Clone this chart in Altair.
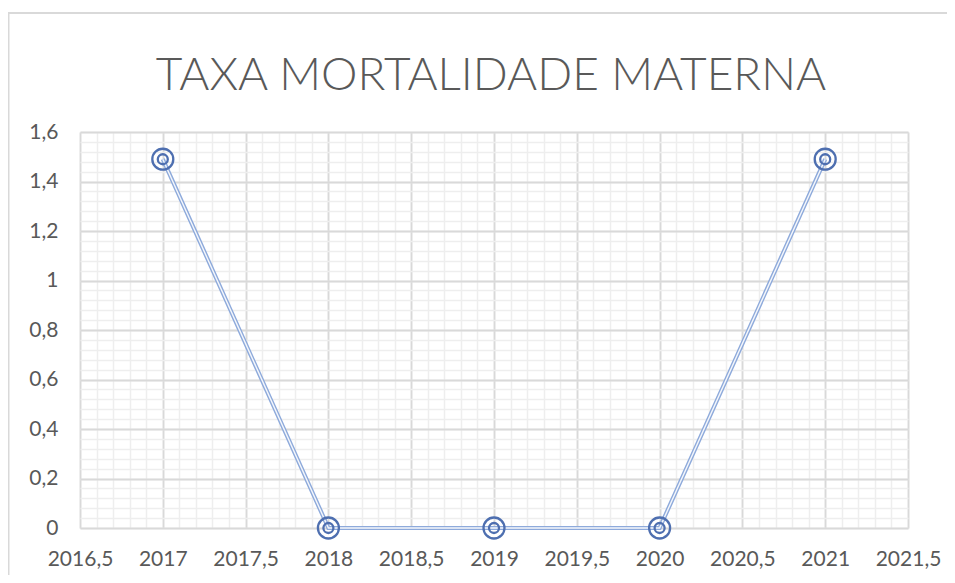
import altair as alt
import pandas as pd

# data
years = [2017, 2018, 2019, 2020, 2021]
taxa = [1.49, 0, 0, 0, 1.49]

x_major = [2016.5, 2017, 2017.5, 2018, 2018.5, 2019, 2019.5, 2020, 2020.5, 2021, 2021.5]
y_major = [0, 0.2, 0.4, 0.6, 0.8, 1, 1.2, 1.4, 1.6]
x_minor = [round(2016.5 + 0.1 * i, 2) for i in range(51)]
y_minor = [round(0.04 * i, 2) for i in range(41)]
title_text = "TAXA MORTALIDADE MATERNA"

df = pd.DataFrame({"ano": years, "taxa": taxa})

XDOM = [2016.5, 2021.5]
YDOM = [0, 1.6]
W, H = 828, 396
FONT = "Lato"
TXT = "#595959"
MAJ = "#d9d9d9"
MIN = "#eeeeee"

xs_min = alt.Scale(domain=XDOM, nice=False, zero=False)
ys_min = alt.Scale(domain=YDOM, nice=False)

minor = alt.Chart(df).mark_point(opacity=0).encode(
    x=alt.X("ano:Q", scale=xs_min,
            axis=alt.Axis(orient="bottom", values=x_minor, labels=False, ticks=False,
                          domain=False, grid=True, gridColor=MIN, gridWidth=1.5, title=None)),
    y=alt.Y("taxa:Q", scale=ys_min,
            axis=alt.Axis(orient="left", values=y_minor, labels=False, ticks=False,
                          domain=False, grid=True, gridColor=MIN, gridWidth=1.5, title=None)),
)

xs = alt.Scale(domain=XDOM, nice=False, zero=False)
ys = alt.Scale(domain=YDOM, nice=False)

base = alt.Chart(df).encode(
    x=alt.X("ano:Q", scale=xs,
            axis=alt.Axis(orient="bottom", values=x_major, ticks=False, tickSize=0, domain=False,
                          grid=True, gridColor=MAJ, gridWidth=1.8, title=None,
                          labelExpr="replace(toString(datum.value), '.', ',')",
                          labelFont=FONT, labelFontSize=21, labelColor=TXT, labelPadding=20,
                          labelFlush=False, labelOverlap=False)),
    y=alt.Y("taxa:Q", scale=ys,
            axis=alt.Axis(orient="left", values=y_major, ticks=False, tickSize=0, domain=False,
                          grid=True, gridColor=MAJ, gridWidth=1.8, title=None,
                          labelExpr="replace(toString(datum.value), '.', ',')",
                          labelFont=FONT, labelFontSize=21, labelColor=TXT, labelPadding=22)),
)

line_outer = base.mark_line(color="#8eaadb", strokeWidth=4.2)
line_inner = base.mark_line(color="#ffffff", strokeWidth=1.4, opacity=0.9)
ring_outer = base.mark_point(shape="circle", size=440, filled=False, color="#4e6fb0",
                             strokeWidth=2.3, opacity=1)
ring_inner = base.mark_point(shape="circle", size=100, filled=False, color="#4e6fb0",
                             strokeWidth=2.3, opacity=1)

one = alt.Data(values=[{"t": title_text}])

border_top = alt.Chart(one).mark_rule(color="#d9d9d9", strokeWidth=2).encode(
    x=alt.value(-71.5), x2=alt.value(900), y=alt.value(-119))
border_left = alt.Chart(one).mark_rule(color="#d9d9d9", strokeWidth=2).encode(
    x=alt.value(-71.5), y=alt.value(-120), y2=alt.value(480))

title = alt.Chart(one).mark_text(
    font=FONT, fontWeight=300, fontSize=46, color=TXT, align="center", baseline="alphabetic"
).encode(x=alt.value(411), y=alt.value(-42), text="t:N")

main = alt.layer(line_outer, line_inner, ring_outer, ring_inner)

chart = alt.layer(border_top, border_left, minor, main, title).resolve_scale(
    x="independent", y="independent"
).resolve_axis(x="independent", y="independent").properties(
    width=W, height=H,
    padding={"left": 72, "top": 124, "right": 39, "bottom": 47},
    autosize=alt.AutoSizeParams(type="none"),
).configure_view(stroke=None).configure(background="white")

chart.save("out.html", embed_options={"renderer": "svg", "actions": False})
